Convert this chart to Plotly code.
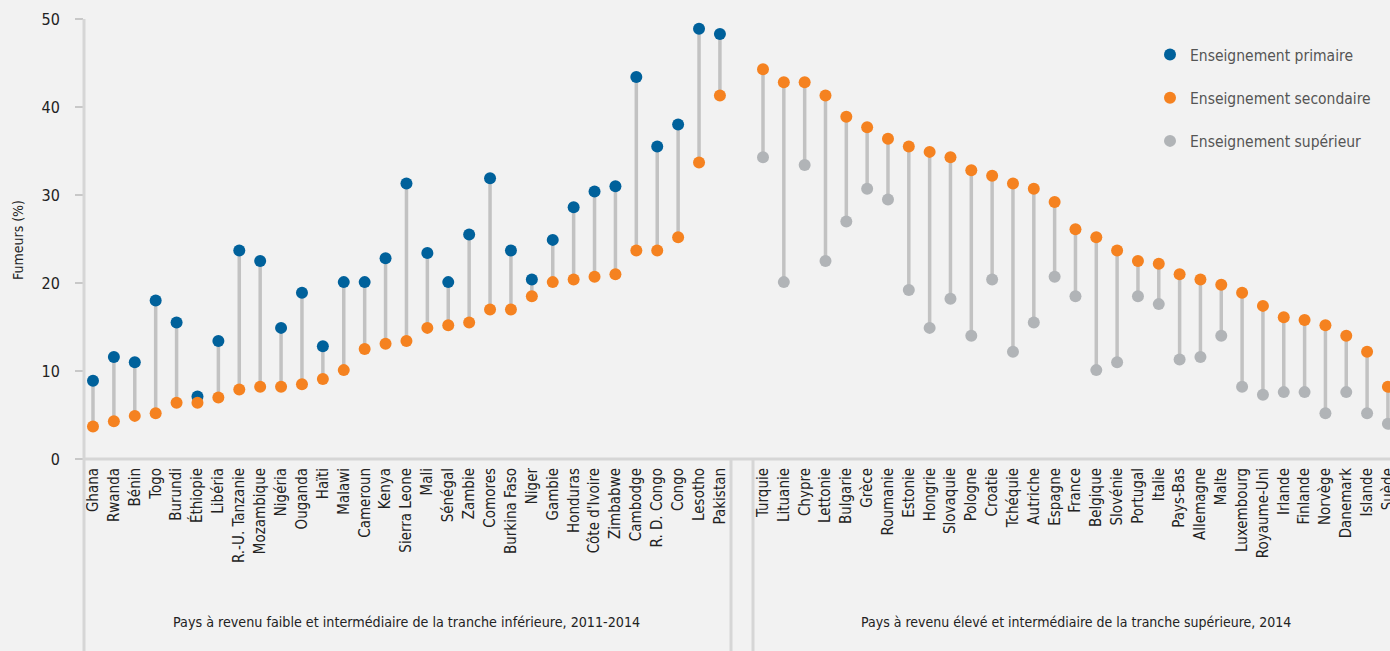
import plotly.graph_objects as go
from plotly.subplots import make_subplots

# ---- data ----
low_countries = ["Ghana", "Rwanda", "Bénin", "Togo", "Burundi", "Éthiopie", "Libéria",
                 "R.-U. Tanzanie", "Mozambique", "Nigéria", "Ouganda", "Haïti", "Malawi",
                 "Cameroun", "Kenya", "Sierra Leone", "Mali", "Sénégal", "Zambie", "Comores",
                 "Burkina Faso", "Niger", "Gambie", "Honduras", "Côte d'Ivoire", "Zimbabwe",
                 "Cambodge", "R. D. Congo", "Congo", "Lesotho", "Pakistan"]
low_primary = [8.9, 11.6, 11.0, 18.0, 15.5, 7.1, 13.4, 23.7, 22.5, 14.9, 18.9, 12.8, 20.1,
               20.1, 22.8, 31.3, 23.4, 20.1, 25.5, 31.9, 23.7, 20.4, 24.9, 28.6, 30.4, 31.0,
               43.4, 35.5, 38.0, 48.9, 48.3]
low_secondary = [3.7, 4.3, 4.9, 5.2, 6.4, 6.4, 7.0, 7.9, 8.2, 8.2, 8.5, 9.1, 10.1, 12.5,
                 13.1, 13.4, 14.9, 15.2, 15.5, 17.0, 17.0, 18.5, 20.1, 20.4, 20.7, 21.0,
                 23.7, 23.7, 25.2, 33.7, 41.3]

high_countries = ["Turquie", "Lituanie", "Chypre", "Lettonie", "Bulgarie", "Grèce", "Roumanie",
                  "Estonie", "Hongrie", "Slovaquie", "Pologne", "Croatie", "Tchéquie",
                  "Autriche", "Espagne", "France", "Belgique", "Slovénie", "Portugal", "Italie",
                  "Pays-Bas", "Allemagne", "Malte", "Luxembourg", "Royaume-Uni", "Irlande",
                  "Finlande", "Norvège", "Danemark", "Islande", "Suède"]
high_secondary = [44.3, 42.8, 42.8, 41.3, 38.9, 37.7, 36.4, 35.5, 34.9, 34.3, 32.8, 32.2,
                  31.3, 30.7, 29.2, 26.1, 25.2, 23.7, 22.5, 22.2, 21.0, 20.4, 19.8, 18.9,
                  17.4, 16.1, 15.8, 15.2, 14.0, 12.2, 8.2]
high_tertiary = [34.3, 20.1, 33.4, 22.5, 27.0, 30.7, 29.5, 19.2, 14.9, 18.2, 14.0, 20.4,
                 12.2, 15.5, 20.7, 18.5, 10.1, 11.0, 18.5, 17.6, 11.3, 11.6, 14.0, 8.2,
                 7.3, 7.6, 7.6, 5.2, 7.6, 5.2, 4.0]

y_ticks = [0, 10, 20, 30, 40, 50]
group_labels = ["Pays à revenu faible et intermédiaire de la tranche inférieure, 2011-2014",
                "Pays à revenu élevé et intermédiaire de la tranche supérieure, 2014"]
legend_names = ["Enseignement primaire", "Enseignement secondaire", "Enseignement supérieur"]

# ---- style ----
BLUE = "#00619b"
ORANGE = "#f58220"
GREY = "#b1b4b7"
STEM = "#c2c2c2"
AXIS = "#d6d6d6"
BG = "#f2f2f2"
FONT = "DejaVu Sans Condensed, Liberation Sans Narrow, Roboto, sans-serif"

W, H = 1390, 651
ML, MR, MT, MB = 84, 0, 19, 192
PW = W - ML - MR
PH = H - MT - MB

def px_x(p):
    return (p - ML) / PW

def px_y(p):
    return (H - MB - p) / PH

fig = make_subplots(rows=1, cols=2, shared_yaxes=True, horizontal_spacing=0)

def stems(top, bottom):
    xs, ys = [], []
    for i, (a, b) in enumerate(zip(top, bottom)):
        xs += [i, i, None]
        ys += [a, b, None]
    return xs, ys

xi_low = list(range(len(low_countries)))
xi_high = list(range(len(high_countries)))

sx, sy = stems(low_primary, low_secondary)
fig.add_trace(go.Scatter(x=sx, y=sy, mode="lines", line=dict(color=STEM, width=3.5),
                         showlegend=False, hoverinfo="skip"), row=1, col=1)
sx, sy = stems(high_secondary, high_tertiary)
fig.add_trace(go.Scatter(x=sx, y=sy, mode="lines", line=dict(color=STEM, width=3.5),
                         showlegend=False, hoverinfo="skip"), row=1, col=2)

fig.add_trace(go.Scatter(x=xi_low, y=low_primary, mode="markers", name=legend_names[0],
                         marker=dict(color=BLUE, size=12), legendgroup="a",
                         text=low_countries), row=1, col=1)
fig.add_trace(go.Scatter(x=xi_low, y=low_secondary, mode="markers", name=legend_names[1],
                         marker=dict(color=ORANGE, size=12), legendgroup="b",
                         text=low_countries), row=1, col=1)
fig.add_trace(go.Scatter(x=xi_high, y=high_secondary, mode="markers", name=legend_names[1],
                         marker=dict(color=ORANGE, size=12), legendgroup="b", showlegend=False,
                         text=high_countries), row=1, col=2)
fig.add_trace(go.Scatter(x=xi_high, y=high_tertiary, mode="markers", name=legend_names[2],
                         marker=dict(color=GREY, size=12), legendgroup="c",
                         text=high_countries), row=1, col=2)

xcommon = dict(showgrid=False, zeroline=False, showline=False, ticks="",
               tickangle=-90, tickfont=dict(family=FONT, size=15, color="#222"),
               ticklabelstandoff=5, ticklabeloverflow="allow", automargin=False,
               fixedrange=True)
fig.update_xaxes(xcommon)
fig.update_xaxes(tickvals=xi_low, ticktext=low_countries, range=[-0.43, 30.53],
                 domain=[0, px_x(731)], row=1, col=1)
fig.update_xaxes(tickvals=xi_high, ticktext=high_countries, range=[-0.48, 30.1],
                 domain=[px_x(753), 1], row=1, col=2)

fig.update_yaxes(range=[0, 50], tickvals=y_ticks, showgrid=False, zeroline=False,
                 showline=False, ticks="outside", ticklen=8, tickwidth=2, tickcolor="#c8c8c8",
                 tickfont=dict(family=FONT, size=16, color="#222"), ticklabelstandoff=12,
                 automargin=False, fixedrange=True, row=1, col=1)
fig.update_yaxes(showticklabels=False, ticks="", showgrid=False, zeroline=False,
                 automargin=False, range=[0, 50], row=1, col=2)

shapes = [
    dict(type="line", xref="paper", yref="paper", x0=0, x1=1, y0=0, y1=0,
         line=dict(color=AXIS, width=3)),
    dict(type="line", xref="paper", yref="paper", x0=0, x1=0, y0=1, y1=px_y(H + 2),
         line=dict(color=AXIS, width=3)),
    dict(type="line", xref="paper", yref="paper", x0=px_x(731), x1=px_x(731), y0=0,
         y1=px_y(H + 2), line=dict(color=AXIS, width=3)),
    dict(type="line", xref="paper", yref="paper", x0=px_x(753), x1=px_x(753), y0=0,
         y1=px_y(H + 2), line=dict(color=AXIS, width=3)),
]

annotations = [
    dict(text="Fumeurs (%)", xref="paper", yref="paper", x=px_x(18), y=px_y(240),
         textangle=-90, showarrow=False, font=dict(family=FONT, size=14, color="#222"),
         xanchor="center", yanchor="middle"),
    dict(text=group_labels[0], xref="paper", yref="paper", x=px_x(406), y=px_y(622),
         showarrow=False, font=dict(family=FONT, size=14.2, color="#222"),
         xanchor="center", yanchor="middle"),
    dict(text=group_labels[1], xref="paper", yref="paper", x=px_x(1076), y=px_y(622),
         showarrow=False, font=dict(family=FONT, size=14.0, color="#222"),
         xanchor="center", yanchor="middle"),
]

fig.update_layout(
    width=W, height=H,
    margin=dict(l=ML, r=MR, t=MT, b=MB, pad=0, autoexpand=False),
    paper_bgcolor=BG, plot_bgcolor=BG,
    shapes=shapes, annotations=annotations,
    showlegend=True,
    legend=dict(x=px_x(1150), y=px_y(38), xanchor="left", yanchor="top",
                bgcolor="rgba(0,0,0,0)", font=dict(family=FONT, size=15.5, color="#555"),
                tracegroupgap=20, traceorder="grouped"),
    font=dict(family=FONT),
)

fig.write_html("out.html", config={"displayModeBar": False},
               post_script="document.body.style.margin='0';"
                           "document.body.style.background='#f2f2f2';")
